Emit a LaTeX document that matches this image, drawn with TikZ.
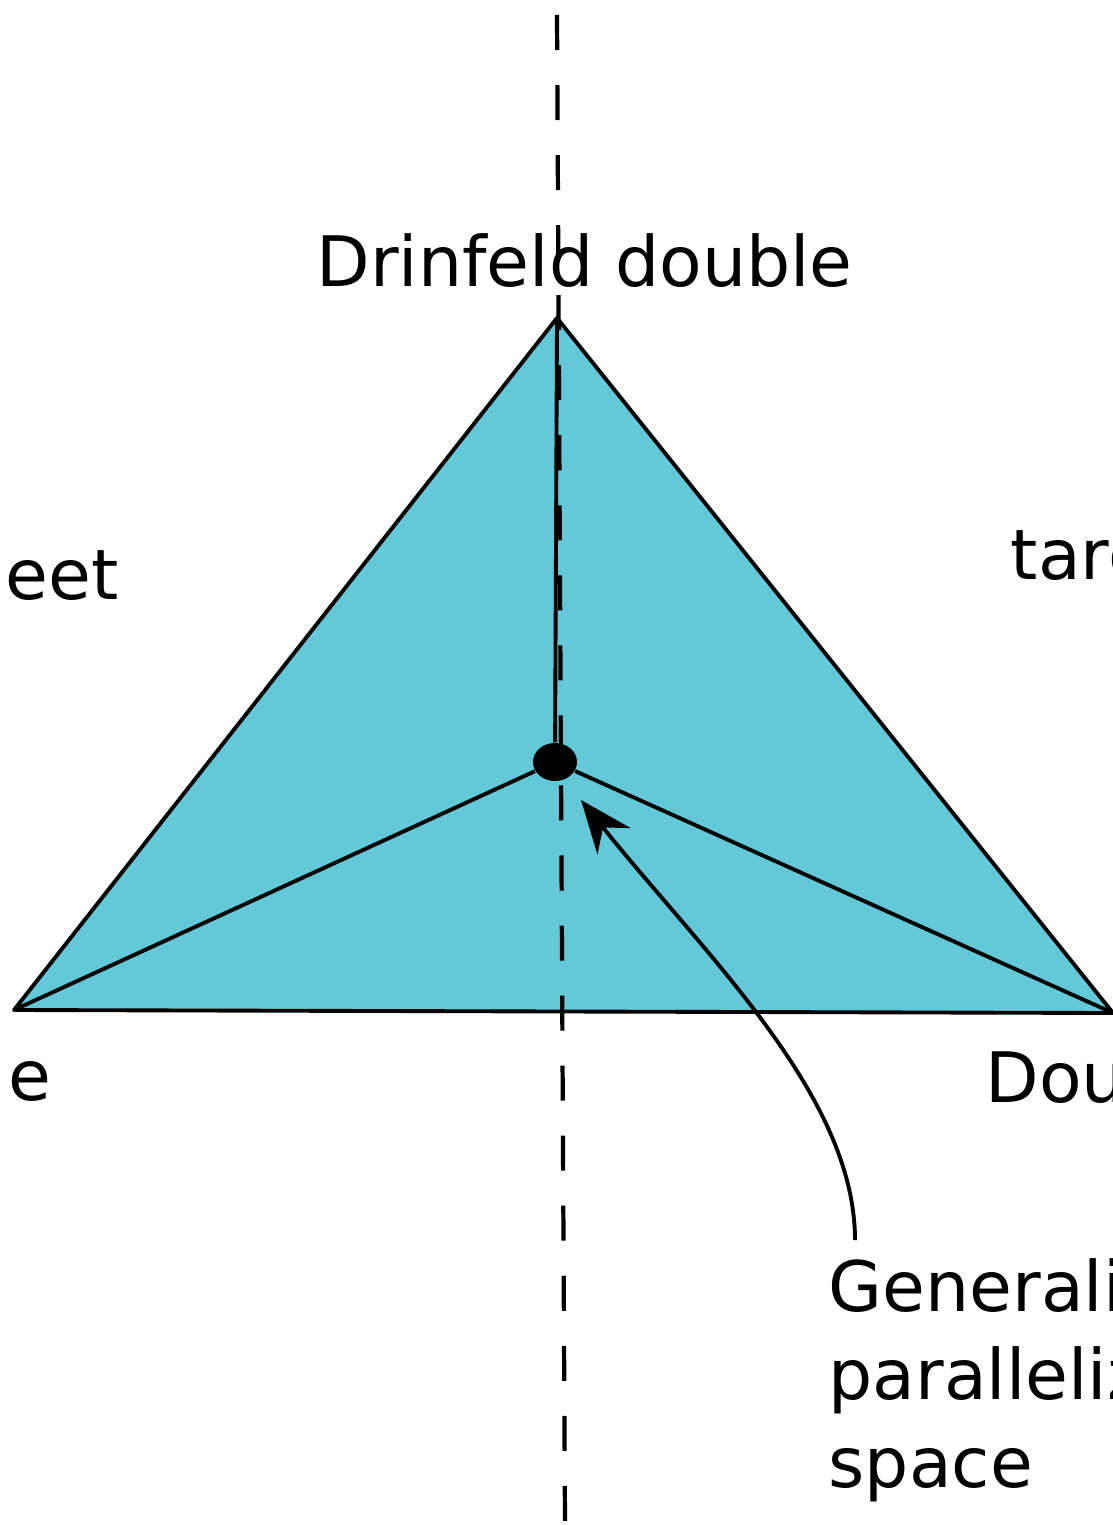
\documentclass[tikz,border=0pt]{standalone}
\usepackage{fontspec}
\setmainfont{DejaVu Sans}
\usetikzlibrary{arrows.meta,shapes.geometric}
\definecolor{tealfill}{HTML}{63C8D8}

\begin{document}
\begin{tikzpicture}[x=0.01cm, y=-0.01cm,
  lab/.style={anchor=base west, inner sep=0pt, align=left,
              font=\fontsize{19.8}{25}\selectfont},
  edge/.style={line width=1.1pt, line join=round},
  axis/.style={line width=1.2pt, dash pattern=on 0.35cm off 0.35cm},
  arr/.style={-{Stealth[length=15pt, width=12pt, inset=5pt]}, line width=1.1pt}]
\useasboundingbox (0,0) rectangle (1113,1525);
\clip (0,0) rectangle (1113,1525);
\coordinate (top) at (557,318);
\coordinate (left) at (14,1010);
\coordinate (right) at (1113,1013);
\fill[tealfill] (top) -- (left) -- (right) -- cycle;
\draw[axis] (557,15) coordinate (axtop) -- (565,1525) coordinate (axbot);
\node[ellipse, fill=black, inner sep=0pt, minimum width=0.44cm,
      minimum height=0.38cm] (centre) at (555,762) {};
\draw[edge] (top) -- (left) -- (right) -- cycle;
\draw[edge] (top) -- (centre);
\draw[edge] (centre) -- (left);
\draw[edge] (centre) -- (right);
\node[lab] (drinfeld) at (316,287) {Drinfeld double};
\node[lab] (sheet) at (5,600) {eet};
\node[lab] (target) at (1010,580) {targ};
\node[lab] (leftlab) at (8,1100) {e};
\node[lab] (doublelab) at (985,1102) {Dou};
% base of a multi-line node sits on its last line
\node[lab] (gps) at (828,1487) {Generaliz\\paralleliz\\space};
\coordinate (gpsfoot) at (855,1240);
\coordinate (tip) at (581,800);
\draw[arr] (gpsfoot) .. controls (855,1095) and (705,955) .. (tip);
\end{tikzpicture}
\end{document}
